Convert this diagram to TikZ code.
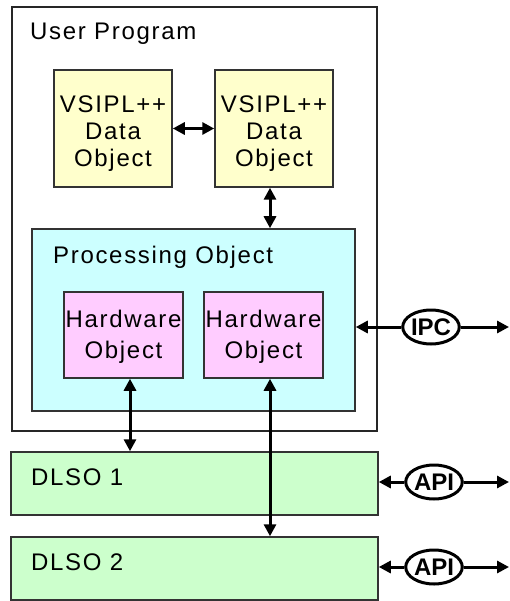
\documentclass[tikz,border=0pt]{standalone}
\usepackage{fontspec}
\setmainfont{Liberation Sans}[LetterSpace=7]
\newfontfamily\tightfont{Liberation Sans}
\usetikzlibrary{shapes.geometric,arrows.meta}
\definecolor{dataY}{HTML}{FFFFCC}
\definecolor{procC}{HTML}{CCFFFF}
\definecolor{hwP}{HTML}{FFCCFF}
\definecolor{dlsoG}{HTML}{CCFFCC}
\definecolor{edge}{HTML}{333333}
\tikzset{
  box/.style={draw=edge, line width=1.5pt, rectangle, inner sep=0pt, align=center},
  databox/.style={box, fill=dataY, minimum width=118pt, minimum height=117pt},
  datatext/.style={inner sep=0pt, align=center, font=\fontsize{24}{27}\selectfont},
  hwbox/.style={box, fill=hwP, minimum width=119pt, minimum height=86pt},
  hwtext/.style={inner sep=0pt, align=center, font=\fontsize{24}{31}\selectfont},
  dlsobox/.style={box, fill=dlsoG, minimum width=367pt, minimum height=63pt},
  lbl/.style={anchor=base west, inner sep=0pt, font=\fontsize{24}{27}\selectfont},
  bubble/.style={ellipse, draw=black, line width=3pt, fill=white, inner sep=0pt, font=\tightfont\bfseries\fontsize{24}{26}\selectfont},
  conn/.style={line width=3pt, {Triangle[length=12pt,width=12pt]}-{Triangle[length=12pt,width=12pt]}},
  oneway/.style={line width=3pt, -{Triangle[length=12pt,width=12pt]}}
}
\begin{document}
\begin{tikzpicture}[x=1pt,y=-1pt]
\useasboundingbox (0,0) rectangle (509,601);
\fill[white] (0,0) rectangle (509,601);
% containers
\node[box, draw=black!85, line width=2pt, fill=white, minimum width=365pt, minimum height=424pt] (user) at (194.5,219) {};
\node[lbl] (userlbl) at (30,40) {User Program};
\node[databox] (d1) at (113,128.5) {};
\node[datatext] (d1t) at ([yshift=-5pt]d1.center) {VSIPL++\\Data\\Object};
\node[databox] (d2) at (274,128.5) {};
\node[datatext] (d2t) at ([yshift=-5pt]d2.center) {VSIPL++\\Data\\Object};
\node[box, fill=procC, minimum width=323pt, minimum height=182pt] (proc) at (193.5,320) {};
\node[lbl] (proclbl) at (53,263) {Processing Object};
\node[hwbox] (hw1) at (123.5,335) {};
\node[hwtext] (hw1t) at ([yshift=-2pt]hw1.center) {Hardware\\Object};
\node[hwbox] (hw2) at (263.5,335) {};
\node[hwtext] (hw2t) at ([yshift=-2pt]hw2.center) {Hardware\\Object};
\node[dlsobox] (dl1) at (194.5,483.5) {};
\node[lbl] (dl1lbl) at (31,485) {DLSO 1};
\node[dlsobox] (dl2) at (194.5,568.5) {};
\node[lbl] (dl2lbl) at (31,570) {DLSO 2};
% bubbles
\node[bubble, minimum width=47pt, minimum height=34pt] (ipc) at (431,327) {IPC};
\node[bubble, minimum width=42pt, minimum height=34pt] (api1) at (434,482) {API};
\node[bubble, minimum width=42pt, minimum height=34pt] (api2) at (434,567) {API};
\coordinate (ipcend) at (509,327);
\coordinate (api1end) at (509,482);
\coordinate (api2end) at (509,567);
% connectors
\draw[conn] (d1.east) -- (d2.west);
\draw[conn] ([xshift=-4pt]d2.south) -- ([xshift=-4pt]d2.south |- proc.north);
\draw[conn] ([xshift=6.5pt]hw1.south) -- ([xshift=6.5pt]hw1.south |- dl1.north);
\draw[conn] ([xshift=6.5pt]hw2.south) -- ([xshift=6.5pt]hw2.south |- dl2.north);
\draw[oneway] (ipc.west) -- (ipc.west -| proc.east);
\draw[oneway] (ipc.east) -- (ipcend);
\draw[oneway] (api1.west) -- (api1.west -| dl1.east);
\draw[oneway] (api1.east) -- (api1end);
\draw[oneway] (api2.west) -- (api2.west -| dl2.east);
\draw[oneway] (api2.east) -- (api2end);
\end{tikzpicture}
\end{document}
